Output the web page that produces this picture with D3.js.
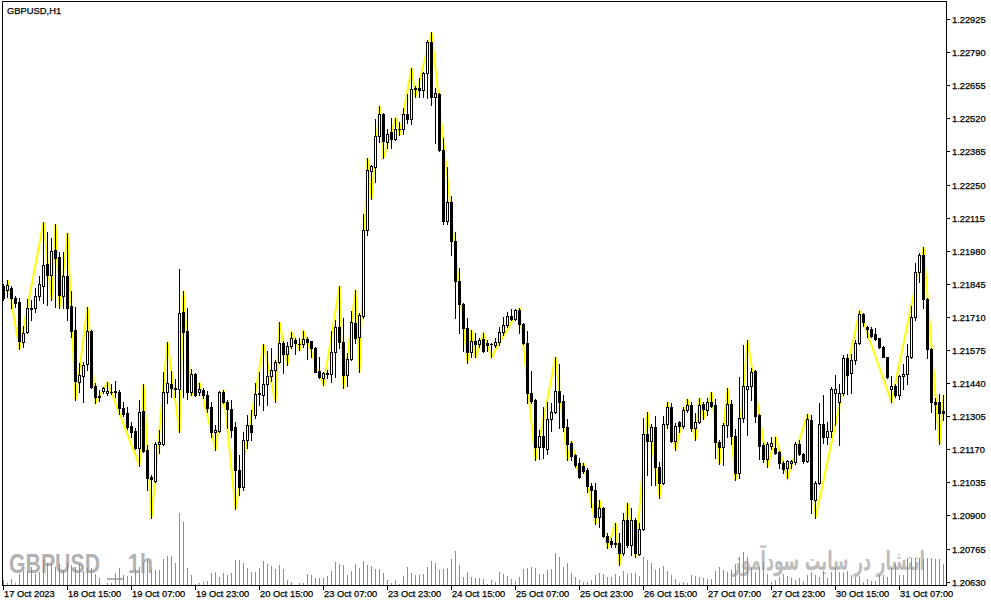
<!DOCTYPE html>
<html><head><meta charset="utf-8">
<script src="https://cdn.jsdelivr.net/npm/d3@7/dist/d3.min.js"></script>
<style>html,body{margin:0;padding:0;background:#fff;overflow:hidden}svg{display:block}</style>
</head><body><svg id="c" width="991" height="605"></svg>
<script>
// ---- data (GBPUSD H1, 17 Oct 2023 23:00 .. 31 Oct 2023 18:00) ----
const symbolTitle = "GBPUSD,H1";
const openP = [1.21836,1.21820,1.21828,1.21787,1.21771,1.21608,1.21648,1.21742,1.21746,1.21795,
1.21836,1.21926,1.21881,1.21983,1.21954,1.21795,1.21877,1.21755,1.21657,1.21444,
1.21469,1.21518,1.21652,1.21428,1.21387,1.21408,1.21400,1.21404,1.21408,1.21404,
1.21338,1.21318,1.21265,1.21245,1.21175,1.21326,1.21167,1.21057,1.21041,1.21191,
1.21191,1.21404,1.21436,1.21420,1.21416,1.21730,1.21652,1.21404,1.21477,1.21404,
1.21412,1.21391,1.21342,1.21240,1.21245,1.21404,1.21363,1.21334,1.21261,1.21085,
1.21016,1.21208,1.21269,1.21310,1.21395,1.21391,1.21436,1.21469,1.21493,1.21526,
1.21604,1.21559,1.21591,1.21616,1.21600,1.21600,1.21620,1.21612,1.21583,1.21489,
1.21461,1.21477,1.21477,1.21567,1.21669,1.21608,1.21473,1.21538,1.21685,1.21628,
1.21714,1.22065,1.22305,1.22322,1.22448,1.22538,1.22424,1.22464,1.22436,1.22477,
1.22477,1.22538,1.22517,1.22640,1.22644,1.22636,1.22705,1.22832,1.22607,1.22619,
1.22391,1.22101,1.22179,1.22020,1.21857,1.21763,1.21665,1.21567,1.21612,1.21600,
1.21620,1.21604,1.21600,1.21595,1.21608,1.21648,1.21677,1.21714,1.21702,1.21738,
1.21681,1.21604,1.21400,1.21371,1.21179,1.21224,1.21171,1.21293,1.21322,1.21408,
1.21367,1.21261,1.21196,1.21147,1.21114,1.21102,1.21085,1.21020,1.21004,1.20894,
1.20930,1.20816,1.20796,1.20788,1.20788,1.20747,1.20881,1.20779,1.20881,1.20743,
1.20845,1.21232,1.21204,1.21261,1.21098,1.21032,1.21273,1.21342,1.21204,1.21281,
1.21265,1.21330,1.21351,1.21257,1.21281,1.21355,1.21330,1.21363,1.21351,1.21200,
1.21179,1.21269,1.21355,1.21224,1.21073,1.21298,1.21416,1.21428,1.21489,1.21310,
1.21187,1.21130,1.21183,1.21175,1.21159,1.21114,1.21094,1.21114,1.21118,1.21191,
1.21151,1.21122,1.21289,1.20963,1.21032,1.21273,1.21220,1.21245,1.21400,1.21363,
1.21400,1.21542,1.21481,1.21534,1.21604,1.21722,1.21669,1.21661,1.21640,1.21624,
1.21587,1.21546,1.21416,1.21428,1.21391,1.21469,1.21477,1.21546,1.21710,1.21893,
1.21963,1.21783,1.21579,1.21363,1.21363,1.21326];
const highP = [1.21844,1.21861,1.21836,1.21795,1.21787,1.21673,1.21783,1.21779,1.21828,1.21877,
1.22097,1.22056,1.22032,1.22089,1.21975,1.21975,1.22052,1.21816,1.21750,1.21522,
1.21526,1.21750,1.21657,1.21440,1.21412,1.21424,1.21444,1.21436,1.21448,1.21412,
1.21363,1.21342,1.21281,1.21257,1.21371,1.21436,1.21187,1.21065,1.21200,1.21249,
1.21485,1.21608,1.21489,1.21457,1.21906,1.21816,1.21746,1.21497,1.21481,1.21440,
1.21420,1.21408,1.21363,1.21269,1.21408,1.21412,1.21371,1.21371,1.21281,1.21147,
1.21240,1.21310,1.21330,1.21440,1.21485,1.21599,1.21571,1.21583,1.21534,1.21689,
1.21612,1.21608,1.21648,1.21624,1.21624,1.21652,1.21628,1.21612,1.21587,1.21546,
1.21485,1.21493,1.21652,1.21697,1.21836,1.21706,1.21563,1.21734,1.21820,1.21726,
1.22130,1.22358,1.22330,1.22517,1.22571,1.22542,1.22477,1.22522,1.22522,1.22505,
1.22562,1.22619,1.22726,1.22652,1.22685,1.22709,1.22840,1.22872,1.22644,1.22624,
1.22440,1.22322,1.22203,1.22056,1.21910,1.21767,1.21706,1.21657,1.21644,1.21624,
1.21644,1.21616,1.21604,1.21624,1.21669,1.21710,1.21730,1.21742,1.21742,1.21746,
1.21685,1.21652,1.21489,1.21375,1.21249,1.21342,1.21363,1.21359,1.21546,1.21518,
1.21391,1.21293,1.21204,1.21151,1.21134,1.21114,1.21094,1.21032,1.21032,1.20963,
1.20934,1.20828,1.20808,1.20869,1.20828,1.20910,1.20951,1.20930,1.20890,1.20869,
1.21298,1.21322,1.21273,1.21306,1.21118,1.21306,1.21363,1.21359,1.21277,1.21285,
1.21342,1.21375,1.21363,1.21318,1.21379,1.21363,1.21379,1.21404,1.21375,1.21208,
1.21277,1.21420,1.21371,1.21253,1.21465,1.21595,1.21616,1.21502,1.21493,1.21314,
1.21196,1.21200,1.21220,1.21220,1.21163,1.21122,1.21126,1.21126,1.21200,1.21208,
1.21155,1.21314,1.21310,1.21041,1.21359,1.21391,1.21281,1.21424,1.21473,1.21436,
1.21555,1.21559,1.21559,1.21616,1.21734,1.21726,1.21673,1.21669,1.21665,1.21624,
1.21591,1.21546,1.21469,1.21436,1.21473,1.21518,1.21599,1.21755,1.21930,1.21971,
1.21995,1.21787,1.21583,1.21379,1.21395,1.21391];
const lowP = [1.21779,1.21791,1.21746,1.21750,1.21579,1.21587,1.21644,1.21697,1.21730,1.21779,
1.21767,1.21759,1.21779,1.21750,1.21746,1.21746,1.21697,1.21628,1.21371,1.21404,
1.21363,1.21493,1.21420,1.21359,1.21367,1.21400,1.21391,1.21395,1.21383,1.21314,
1.21306,1.21253,1.21220,1.21171,1.21102,1.21159,1.21004,1.20890,1.21036,1.21155,
1.21187,1.21359,1.21383,1.21383,1.21240,1.21383,1.21375,1.21391,1.21387,1.21391,
1.21379,1.21322,1.21220,1.21167,1.21240,1.21359,1.21257,1.21220,1.20926,1.20983,
1.21004,1.21175,1.21208,1.21298,1.21351,1.21330,1.21351,1.21448,1.21363,1.21522,
1.21481,1.21514,1.21583,1.21559,1.21575,1.21587,1.21538,1.21546,1.21485,1.21461,
1.21432,1.21461,1.21444,1.21465,1.21583,1.21420,1.21428,1.21534,1.21604,1.21485,
1.21706,1.22044,1.22191,1.22260,1.22424,1.22358,1.22399,1.22399,1.22432,1.22452,
1.22456,1.22501,1.22497,1.22607,1.22607,1.22607,1.22603,1.22575,1.22420,1.22387,
1.22089,1.22089,1.21963,1.21706,1.21644,1.21571,1.21522,1.21546,1.21546,1.21587,
1.21567,1.21571,1.21546,1.21587,1.21595,1.21636,1.21669,1.21697,1.21697,1.21644,
1.21599,1.21359,1.21359,1.21126,1.21130,1.21134,1.21151,1.21245,1.21318,1.21257,
1.21245,1.21126,1.21126,1.21098,1.21053,1.21073,1.20996,1.20934,1.20865,1.20853,
1.20812,1.20767,1.20771,1.20771,1.20698,1.20739,1.20771,1.20739,1.20730,1.20739,
1.20841,1.21065,1.21024,1.21024,1.20971,1.21028,1.21257,1.21200,1.21167,1.21240,
1.21257,1.21322,1.21245,1.21208,1.21277,1.21293,1.21310,1.21342,1.21134,1.21110,
1.21106,1.21220,1.21191,1.21045,1.21053,1.21281,1.21228,1.21371,1.21281,1.21130,
1.21118,1.21098,1.21171,1.21151,1.21094,1.21073,1.21053,1.21094,1.21110,1.21147,
1.21114,1.21118,1.20910,1.20890,1.21028,1.21196,1.21191,1.21220,1.21269,1.21187,
1.21391,1.21395,1.21400,1.21518,1.21599,1.21673,1.21628,1.21628,1.21616,1.21583,
1.21546,1.21461,1.21363,1.21383,1.21375,1.21416,1.21436,1.21542,1.21697,1.21852,
1.21746,1.21542,1.21322,1.21253,1.21191,1.21289];
const closeP = [1.21787,1.21840,1.21787,1.21767,1.21612,1.21644,1.21746,1.21746,1.21795,1.21844,
1.21922,1.21881,1.21979,1.21950,1.21799,1.21877,1.21746,1.21652,1.21448,1.21473,
1.21514,1.21652,1.21424,1.21383,1.21383,1.21420,1.21408,1.21404,1.21404,1.21338,
1.21314,1.21261,1.21240,1.21175,1.21322,1.21163,1.21053,1.21049,1.21191,1.21200,
1.21404,1.21440,1.21420,1.21416,1.21726,1.21648,1.21404,1.21477,1.21391,1.21416,
1.21391,1.21338,1.21240,1.21249,1.21404,1.21363,1.21334,1.21249,1.21085,1.21016,
1.21208,1.21269,1.21240,1.21395,1.21400,1.21436,1.21469,1.21493,1.21526,1.21604,
1.21559,1.21591,1.21624,1.21604,1.21600,1.21620,1.21608,1.21583,1.21485,1.21465,
1.21481,1.21481,1.21567,1.21669,1.21608,1.21473,1.21538,1.21689,1.21624,1.21718,
1.22065,1.22309,1.22326,1.22448,1.22538,1.22428,1.22456,1.22436,1.22477,1.22477,
1.22538,1.22517,1.22640,1.22644,1.22636,1.22705,1.22832,1.22607,1.22624,1.22391,
1.22101,1.22179,1.22020,1.21857,1.21763,1.21665,1.21567,1.21612,1.21600,1.21616,
1.21571,1.21595,1.21600,1.21608,1.21648,1.21677,1.21714,1.21702,1.21738,1.21681,
1.21604,1.21400,1.21367,1.21179,1.21224,1.21179,1.21293,1.21322,1.21408,1.21363,
1.21261,1.21191,1.21143,1.21106,1.21057,1.21081,1.21020,1.21004,1.20894,1.20930,
1.20816,1.20792,1.20783,1.20783,1.20747,1.20881,1.20779,1.20881,1.20747,1.20845,
1.21232,1.21204,1.21261,1.21098,1.21032,1.21273,1.21342,1.21204,1.21265,1.21265,
1.21330,1.21351,1.21257,1.21281,1.21351,1.21334,1.21363,1.21347,1.21200,1.21179,
1.21269,1.21355,1.21224,1.21073,1.21298,1.21428,1.21428,1.21485,1.21306,1.21183,
1.21130,1.21191,1.21196,1.21155,1.21114,1.21090,1.21122,1.21122,1.21191,1.21151,
1.21122,1.21293,1.20967,1.21032,1.21273,1.21220,1.21245,1.21416,1.21416,1.21400,
1.21542,1.21473,1.21534,1.21604,1.21722,1.21689,1.21661,1.21632,1.21620,1.21587,
1.21546,1.21465,1.21428,1.21391,1.21469,1.21477,1.21550,1.21710,1.21893,1.21963,
1.21783,1.21579,1.21363,1.21355,1.21318,1.21318];
const tickVolume = [470,170,630,230,1070,1400,1400,1800,1070,1300,
2470,2230,2130,1800,2070,1470,2230,2000,1800,2130,
1400,1670,1730,1130,730,50,230,230,1230,1730,
1000,900,900,1570,1800,2330,2400,1570,1470,1470,
2570,2900,2900,2230,7200,6300,1670,1000,130,230,
330,400,1230,1330,800,1170,970,1170,2470,2470,
2230,1670,1330,1300,1730,2400,2130,1900,1630,2000,
1630,470,300,50,170,170,1070,970,670,670,
670,900,1400,2330,2130,2000,1000,1400,2070,1670,
2400,1970,1900,1570,1570,1170,470,230,470,130,
900,1800,1170,1000,970,1130,1800,2400,2230,1500,
1570,1670,2570,3400,2000,800,1330,800,670,670,
570,130,500,330,1330,1100,900,600,400,830,
1600,1730,1830,1730,1100,1070,1500,1570,3230,2770,
1830,2170,1170,830,500,270,330,500,1000,1230,
1070,830,830,1070,900,1400,1100,1170,1170,930,
2770,2500,2170,1500,1670,1930,1400,1000,570,170,
330,170,1000,900,830,730,600,570,1400,1830,
1500,1330,1500,2070,2830,3330,2830,1730,1330,1830,
2270,1100,330,500,830,1100,900,670,500,730,
400,1000,1330,1000,830,1400,730,1330,1830,1270,
1270,1400,1000,830,900,330,600,400,400,1000,
1000,830,1730,2070,1000,1000,2730,2600,2730,2670,
2600,2730,2670,2600,2600,2070];
// ZigZag turning points: bar index and price
const zigzagBar = [1,4,10,12,13,14,16,18,21,23,26,34,35,37,41,44,45,47,49,53,55,58,65,68,69,71,72,74,75,80,84,85,88,89,91,92,94,95,98,99,102,103,107,116,117,118,120,122,129,133,138,141,142,144,145,148,149,151,153,154,156,158,161,164,166,168,171,173,174,175,177,179,181,183,186,191,193,196,201,203,214,222,230,234,235];
const zigzagPrice = [1.21861,1.21579,1.22097,1.21779,1.22089,1.21746,1.22052,1.21371,1.21750,1.21359,1.21444,1.21102,1.21436,1.20890,1.21608,1.21240,1.21816,1.21391,1.21440,1.21167,1.21412,1.20926,1.21599,1.21363,1.21689,1.21514,1.21648,1.21575,1.21652,1.21432,1.21836,1.21420,1.21820,1.21485,1.22358,1.22191,1.22571,1.22358,1.22522,1.22452,1.22726,1.22607,1.22872,1.21522,1.21657,1.21546,1.21644,1.21546,1.21746,1.21126,1.21546,1.21126,1.21204,1.21053,1.21114,1.20865,1.20963,1.20767,1.20869,1.20698,1.20951,1.20730,1.21322,1.20971,1.21363,1.21167,1.21375,1.21208,1.21379,1.21293,1.21404,1.21110,1.21420,1.21045,1.21616,1.21098,1.21220,1.21053,1.21314,1.20890,1.21734,1.21363,1.21995,1.21191,1.21391];
const priceTicks = [1.22925,1.22790,1.22655,1.22520,1.22385,1.22250,1.22115,1.21980,1.21845,1.21710,1.21575,1.21440,1.21305,1.21170,1.21035,1.20900,1.20765,1.20630];
const timeTickBar = [0,16,32,48,64,80,96,112,128,144,160,176,192,208,224];
const timeTickLabel = ["17 Oct 2023","18 Oct 15:00","19 Oct 07:00","19 Oct 23:00","20 Oct 15:00","23 Oct 07:00","23 Oct 23:00","24 Oct 15:00","25 Oct 07:00","25 Oct 23:00","26 Oct 15:00","27 Oct 07:00","27 Oct 23:00","30 Oct 15:00","31 Oct 07:00"];
const watermarkLeft = ["GBPUSD", "_", "1h"];
const watermarkRight = "انتشار در سایت سودآموز";

// ---- drawing ----
const svg = d3.select("#c");
const FONT = "'Liberation Sans', Arial, sans-serif";
const nBars = openP.length;
const x = d3.scaleLinear().domain([0, nBars - 1]).range([3, 943]);
const y = d3.scaleLinear().domain([1.20630, 1.22925]).range([581.7, 19]);
const yv = d3.scaleLinear().domain([0, 7200]).range([585, 513]);
const cx = i => Math.round(x(i));
const ry = p => Math.round(y(p));

svg.append("rect").attr("width", 991).attr("height", 605).attr("fill", "#fff");

// watermarks
const wm = svg.append("g").attr("fill", "#b2b2b2").attr("font-family", FONT).attr("font-weight", "bold");
wm.append("text").attr("x", 9).attr("y", 573).attr("font-size", 28).attr("textLength", 91).attr("lengthAdjust", "spacingAndGlyphs").text(watermarkLeft[0]);
wm.append("rect").attr("x", 107).attr("y", 578).attr("width", 16).attr("height", 2);
wm.append("text").attr("x", 128).attr("y", 573).attr("font-size", 28).attr("textLength", 25).attr("lengthAdjust", "spacingAndGlyphs").text(watermarkLeft[2]);
const faG = svg.append("g");
const fa = faG.append("text").attr("x", 0).attr("y", 0).attr("text-anchor", "middle")
  .attr("font-family", "'DejaVu Sans', sans-serif").attr("font-weight", "bold").attr("font-size", 27)
  .attr("fill", "#bdbdbd").text(watermarkRight);
const faLen = fa.node().getComputedTextLength() || 193;
faG.attr("transform", `translate(828.5,570) scale(${Math.min(1.5, 193 / faLen)},1)`);

// volumes
svg.append("g").selectAll("rect").data(tickVolume).join("rect")
  .attr("x", (d, i) => cx(i)).attr("width", 1)
  .attr("y", d => Math.round(yv(d))).attr("height", d => 585 - Math.round(yv(d)))
  .attr("fill", "#32cd32");

// zigzag
const zz = zigzagBar.map((b, k) => [b, zigzagPrice[k]]);
svg.append("path").datum(zz)
  .attr("d", d3.line().x(d => cx(d[0]) + 0.5).y(d => y(d[1])))
  .attr("fill", "none").attr("stroke", "#ffff00").attr("stroke-width", 2).attr("stroke-linejoin", "miter");

// candles
const bars = d3.range(nBars).map(i => ({i, o: openP[i], h: highP[i], l: lowP[i], c: closeP[i]}));
const g = svg.append("g");
bars.forEach(b => {
  const X = cx(b.i);
  const yh = ry(b.h), yl = ry(b.l);
  g.append("rect").attr("x", X).attr("y", yh).attr("width", 1).attr("height", yl - yh + 1).attr("fill", "#000");
  const top = ry(Math.max(b.o, b.c)), bot = ry(Math.min(b.o, b.c));
  g.append("rect").attr("x", X - 1).attr("y", top).attr("width", 3).attr("height", bot - top + 1).attr("fill", "#000");
  if (b.c > b.o && bot - top > 1) {
    g.append("rect").attr("x", X).attr("y", top + 1).attr("width", 1).attr("height", bot - top - 1).attr("fill", "#fff");
  }
});

// frame
svg.append("rect").attr("x", 2.5).attr("y", 1.5).attr("width", 944).attr("height", 584)
  .attr("fill", "none").attr("stroke", "#000").attr("stroke-width", 1);

// title
svg.append("text").attr("x", 7).attr("y", 14).attr("font-family", FONT).attr("font-size", 9.4)
  .attr("fill", "#000").attr("stroke", "#000").attr("stroke-width", 0.25).text(symbolTitle);

// right price axis
const ra = svg.append("g").attr("font-family", FONT).attr("font-size", 9.3).attr("fill", "#000")
  .attr("stroke", "#000").attr("stroke-width", 0.25);
priceTicks.forEach(p => {
  const Y = ry(p);
  ra.append("rect").attr("x", 947).attr("y", Y).attr("width", 3).attr("height", 1).attr("stroke", "none");
  ra.append("text").attr("x", 952).attr("y", Y + 3.5).text(d3.format(".5f")(p));
});

// bottom time axis
const ba = svg.append("g").attr("font-family", FONT).attr("font-size", 9.3).attr("fill", "#000")
  .attr("stroke", "#000").attr("stroke-width", 0.25);
timeTickBar.forEach((b, k) => {
  const X = cx(b);
  ba.append("rect").attr("x", X).attr("y", 586).attr("width", 1).attr("height", 4).attr("stroke", "none");
  ba.append("text").attr("x", X + 1).attr("y", 597).text(timeTickLabel[k]);
});
</script></body></html>
